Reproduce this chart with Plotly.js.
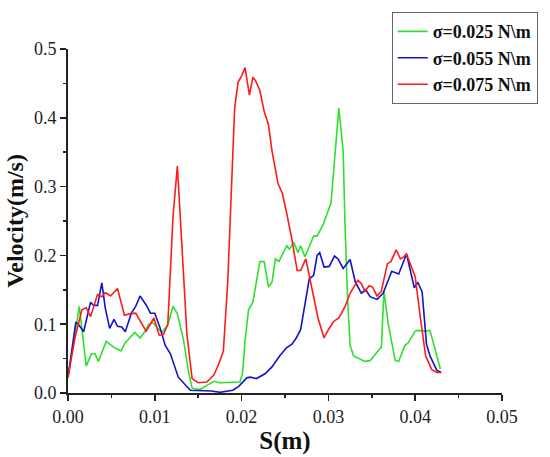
<!DOCTYPE html>
<html>
<head>
<meta charset="utf-8">
<script src="https://cdn.plot.ly/plotly-3.0.1.min.js"></script>
<style>html,body{margin:0;padding:0;background:#fff;}#chart{width:550px;height:457px;}</style>
</head>
<body>
<div id="chart"></div>
<script>
const seriesNames = ["σ=0.025 N\\m", "σ=0.055 N\\m", "σ=0.075 N\\m"];

const greenS = [0, 0.0013, 0.0021, 0.0027, 0.0031, 0.0035, 0.0044, 0.0052, 0.0061, 0.0066, 0.0071, 0.0077, 0.0083, 0.0089, 0.0093, 0.0098, 0.0108, 0.0115, 0.0121, 0.0126, 0.0133, 0.0139, 0.0143, 0.0152, 0.0160, 0.0168, 0.0175, 0.0190, 0.0198, 0.0201, 0.0204, 0.0208, 0.0213, 0.0221, 0.0226, 0.0231, 0.0235, 0.0239, 0.0243, 0.0252, 0.0255, 0.0260, 0.0265, 0.0268, 0.0273, 0.0283, 0.0287, 0.0294, 0.0303, 0.0312, 0.0317, 0.0319, 0.0322, 0.0325, 0.0329, 0.0342, 0.0348, 0.0359, 0.0361, 0.0364, 0.0369, 0.0377, 0.0381, 0.0388, 0.0392, 0.0400, 0.0403, 0.0411, 0.0417, 0.0429];
const greenV = [0.022, 0.126, 0.039, 0.057, 0.057, 0.046, 0.075, 0.067, 0.061, 0.073, 0.080, 0.088, 0.080, 0.090, 0.100, 0.102, 0.088, 0.099, 0.126, 0.115, 0.078, 0.030, 0.007, 0.005, 0.011, 0.017, 0.015, 0.016, 0.016, 0.028, 0.076, 0.121, 0.132, 0.191, 0.191, 0.154, 0.161, 0.195, 0.191, 0.214, 0.209, 0.219, 0.204, 0.214, 0.198, 0.228, 0.228, 0.245, 0.276, 0.414, 0.352, 0.250, 0.140, 0.069, 0.054, 0.046, 0.047, 0.064, 0.066, 0.147, 0.100, 0.047, 0.046, 0.069, 0.073, 0.090, 0.091, 0.090, 0.091, 0.035];

const blueS = [0, 0.0009, 0.0012, 0.0018, 0.0026, 0.0029, 0.0034, 0.0039, 0.0043, 0.0048, 0.0053, 0.0057, 0.0062, 0.0066, 0.0073, 0.0078, 0.0083, 0.0090, 0.0095, 0.0100, 0.0106, 0.0112, 0.0118, 0.0127, 0.0141, 0.0165, 0.0175, 0.0190, 0.0197, 0.0206, 0.0210, 0.0217, 0.0227, 0.0235, 0.0244, 0.0252, 0.0258, 0.0263, 0.0268, 0.0273, 0.0278, 0.0283, 0.0287, 0.0290, 0.0295, 0.0301, 0.0307, 0.0311, 0.0317, 0.0325, 0.0331, 0.0338, 0.0343, 0.0348, 0.0356, 0.0363, 0.0373, 0.0381, 0.0390, 0.0399, 0.0403, 0.0408, 0.0413, 0.0417, 0.0425, 0.0430];
const blueV = [0.023, 0.103, 0.100, 0.089, 0.132, 0.128, 0.127, 0.160, 0.123, 0.094, 0.107, 0.097, 0.096, 0.089, 0.116, 0.126, 0.141, 0.128, 0.116, 0.116, 0.095, 0.069, 0.057, 0.023, 0.004, 0.003, 0.001, 0.004, 0.010, 0.022, 0.023, 0.021, 0.028, 0.038, 0.054, 0.066, 0.071, 0.080, 0.092, 0.128, 0.166, 0.171, 0.200, 0.204, 0.183, 0.184, 0.199, 0.195, 0.181, 0.194, 0.161, 0.145, 0.150, 0.140, 0.136, 0.145, 0.177, 0.173, 0.202, 0.153, 0.161, 0.147, 0.071, 0.054, 0.033, 0.030];

const redS = [0, 0.0008, 0.0016, 0.0021, 0.0026, 0.0034, 0.0039, 0.0043, 0.0049, 0.0057, 0.0065, 0.0071, 0.0078, 0.0090, 0.0099, 0.0105, 0.0110, 0.0115, 0.0121, 0.0126, 0.0131, 0.0137, 0.0143, 0.0150, 0.0160, 0.0168, 0.0173, 0.0179, 0.0184, 0.0189, 0.0192, 0.0196, 0.0200, 0.0204, 0.0209, 0.0213, 0.0216, 0.0221, 0.0226, 0.0231, 0.0235, 0.0242, 0.0247, 0.0252, 0.0258, 0.0264, 0.0268, 0.0274, 0.0281, 0.0288, 0.0295, 0.0300, 0.0306, 0.0312, 0.0319, 0.0325, 0.0334, 0.0338, 0.0342, 0.0347, 0.0351, 0.0356, 0.0361, 0.0368, 0.0372, 0.0378, 0.0383, 0.0386, 0.0390, 0.0395, 0.0400, 0.0406, 0.0412, 0.0419, 0.0425, 0.0430];
const redV = [0.023, 0.080, 0.121, 0.124, 0.111, 0.143, 0.140, 0.146, 0.141, 0.152, 0.113, 0.115, 0.116, 0.090, 0.109, 0.084, 0.085, 0.100, 0.257, 0.330, 0.219, 0.085, 0.021, 0.015, 0.016, 0.026, 0.040, 0.061, 0.161, 0.328, 0.414, 0.452, 0.461, 0.473, 0.433, 0.459, 0.454, 0.440, 0.409, 0.390, 0.352, 0.304, 0.290, 0.261, 0.223, 0.178, 0.178, 0.195, 0.154, 0.109, 0.080, 0.092, 0.104, 0.109, 0.125, 0.145, 0.164, 0.159, 0.148, 0.156, 0.154, 0.141, 0.148, 0.188, 0.191, 0.208, 0.195, 0.197, 0.202, 0.185, 0.169, 0.109, 0.054, 0.034, 0.030, 0.030];

const xTickVals = [0, 0.01, 0.02, 0.03, 0.04, 0.05];
const xTickText = ["0.00", "0.01", "0.02", "0.03", "0.04", "0.05"];
const yTickVals = [0, 0.1, 0.2, 0.3, 0.4, 0.5];
const yTickText = ["0.0", "0.1", "0.2", "0.3", "0.4", "0.5"];

const serif = "'Liberation Serif', 'Times New Roman', serif";

const traces = [
  {x: greenS, y: greenV, name: seriesNames[0], type: "scatter", mode: "lines", line: {color: "#2ee02e", width: 1.6}},
  {x: blueS, y: blueV, name: seriesNames[1], type: "scatter", mode: "lines", line: {color: "#1414c4", width: 1.6}},
  {x: redS, y: redV, name: seriesNames[2], type: "scatter", mode: "lines", line: {color: "#ff1a1a", width: 1.6}}
];

const axisCommon = {
  showgrid: false, zeroline: false, showline: true, linecolor: "#222", linewidth: 2,
  ticks: "outside", ticklen: 6, tickwidth: 1.5, tickcolor: "#222",
  tickfont: {family: serif, size: 18, color: "#222"}
};

const layout = {
  width: 550, height: 457,
  margin: {l: 68, r: 48, t: 43, b: 64},
  paper_bgcolor: "#fff", plot_bgcolor: "#fff",
  showlegend: true,
  xaxis: Object.assign({}, axisCommon, {
    range: [0, 0.05], tickvals: xTickVals, ticktext: xTickText,
    minor: {ticks: "outside", ticklen: 3, tickwidth: 1.5, tickcolor: "#222", dtick: 0.005, tick0: 0},
    title: {text: "<b>S(m)</b>", font: {family: serif, size: 25, color: "#111"}, standoff: 6}
  }),
  yaxis: Object.assign({}, axisCommon, {
    range: [0, 0.5], tickvals: yTickVals, ticktext: yTickText,
    minor: {ticks: "outside", ticklen: 3, tickwidth: 1.5, tickcolor: "#222", dtick: 0.05, tick0: 0},
    title: {text: "<b>Velocity(m/s)</b>", font: {family: serif, size: 24, color: "#111"}, standoff: 4}
  }),
  legend: {
    x: 0.746, y: 1.107, xanchor: "left", yanchor: "top",
    bgcolor: "#fff", bordercolor: "#666", borderwidth: 1,
    font: {family: serif, size: 18, color: "#111", weight: "bold"},
    tracegroupgap: 0
  }
};

Plotly.newPlot("chart", traces, layout, {displayModeBar: false, staticPlot: true});
</script>
</body>
</html>
